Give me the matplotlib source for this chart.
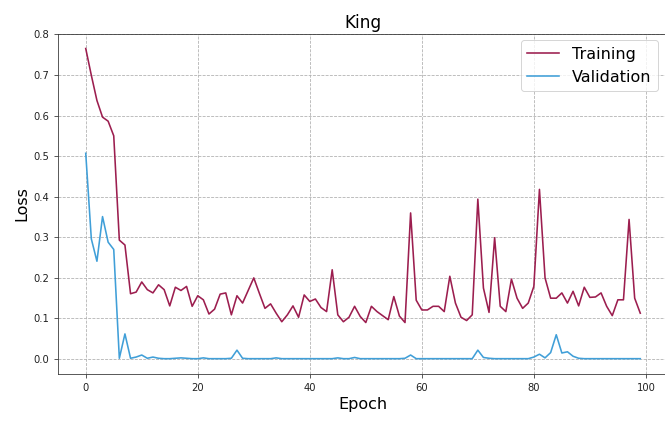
import matplotlib
matplotlib.use("Agg")
import matplotlib.pyplot as plt
import numpy as np

title = "King"
epochs = list(range(100))
training = [
    0.765, 0.699, 0.637, 0.596, 0.586, 0.550, 0.293, 0.281, 0.161, 0.165,
    0.190, 0.171, 0.163, 0.183, 0.171, 0.131, 0.177, 0.169, 0.179, 0.130,
    0.156, 0.146, 0.111, 0.123, 0.160, 0.163, 0.109, 0.156, 0.138, 0.169,
    0.200, 0.162, 0.125, 0.136, 0.113, 0.092, 0.109, 0.131, 0.103, 0.158,
    0.142, 0.148, 0.127, 0.117, 0.220, 0.109, 0.092, 0.103, 0.130, 0.105,
    0.090, 0.130, 0.117, 0.107, 0.097, 0.154, 0.106, 0.090, 0.360, 0.145,
    0.121, 0.121, 0.130, 0.130, 0.117, 0.204, 0.138, 0.103, 0.095, 0.109,
    0.394, 0.175, 0.115, 0.299, 0.130, 0.117, 0.197, 0.150, 0.125, 0.138,
    0.179, 0.418, 0.200, 0.150, 0.150, 0.163, 0.138, 0.167, 0.131, 0.177,
    0.152, 0.153, 0.163, 0.130, 0.107, 0.146, 0.146, 0.344, 0.150, 0.113,
]
validation = [
    0.507, 0.296, 0.241, 0.351, 0.288, 0.270, 0.002, 0.062, 0.002, 0.005,
    0.010, 0.002, 0.005, 0.002, 0.001, 0.001, 0.002, 0.003, 0.002, 0.001,
    0.001, 0.003, 0.001, 0.001, 0.001, 0.001, 0.002, 0.022, 0.002, 0.001,
    0.001, 0.001, 0.001, 0.001, 0.003, 0.001, 0.001, 0.001, 0.001, 0.001,
    0.001, 0.001, 0.001, 0.001, 0.001, 0.003, 0.001, 0.001, 0.004, 0.001,
    0.001, 0.001, 0.001, 0.001, 0.001, 0.001, 0.001, 0.002, 0.010, 0.001,
    0.001, 0.001, 0.001, 0.001, 0.001, 0.001, 0.001, 0.001, 0.001, 0.001,
    0.022, 0.004, 0.002, 0.001, 0.001, 0.001, 0.001, 0.001, 0.001, 0.001,
    0.005, 0.012, 0.003, 0.016, 0.060, 0.015, 0.018, 0.007, 0.002, 0.001,
    0.001, 0.001, 0.001, 0.001, 0.001, 0.001, 0.001, 0.001, 0.001, 0.001,
]
series_names = ["Training", "Validation"]

W, H = 665, 422
fig = plt.figure(figsize=(W / 72, H / 72), dpi=72)
ax = fig.add_axes([58 / W, (H - 373.7) / H, (668 - 58) / W, (373.7 - 33.5) / H])

ax.plot(epochs, training, color="#9c1e4f", lw=1.6, label=series_names[0])
ax.plot(epochs, validation, color="#409fd8", lw=1.6, label=series_names[1])

ax.set_xlim(-4.95, 103.95)
ax.set_ylim(-0.036, 0.802)
ax.set_xticks([0, 20, 40, 60, 80, 100])
ax.set_yticks(np.round(np.arange(0, 0.81, 0.1), 1))
ax.tick_params(labelsize=10, colors="#333333", labelcolor="#222222", length=4, pad=5)
ax.grid(True, linestyle="--", color="#b0b0b0", lw=0.8)
ax.spines["right"].set_visible(False)
for s in ["left", "bottom", "top"]:
    ax.spines[s].set_color("#333333")

ax.set_title(title, fontsize=17)
ax.set_xlabel("Epoch", fontsize=16)
ax.set_ylabel("Loss", fontsize=16)
ax.legend(loc="upper right", fontsize=16, bbox_to_anchor=(0.9967, 1.004))

fig.savefig("out.png", dpi=72)
